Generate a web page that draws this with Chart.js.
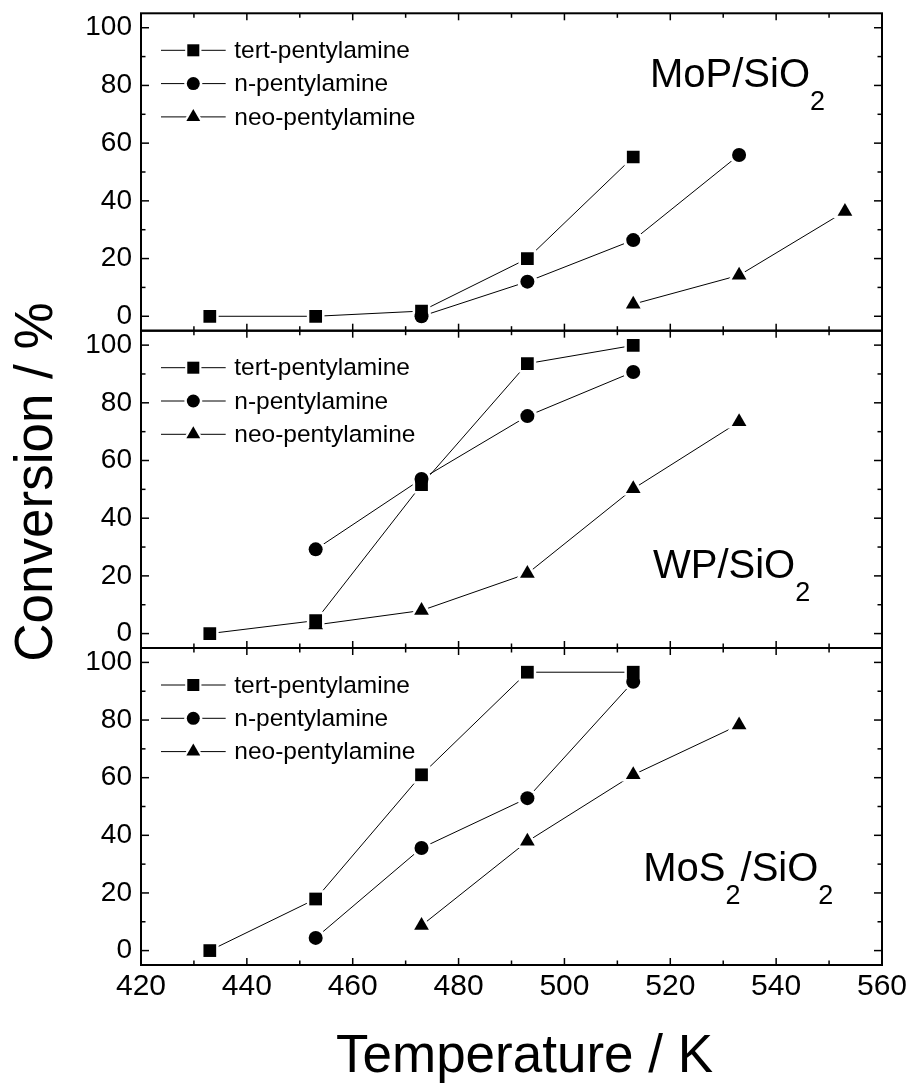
<!DOCTYPE html>
<html><head><meta charset="utf-8">
<script src="https://cdn.jsdelivr.net/npm/chart.js@4.4.1/dist/chart.umd.min.js"></script>
<style>
html,body{margin:0;padding:0;background:#fff;}
#wrap{position:relative;width:912px;height:1085px;overflow:hidden;background:#fff;}
#wrap canvas{position:absolute;left:0;}
</style></head><body>
<div id="wrap">
<canvas id="cA" width="912" height="420" style="top:-40px"></canvas>
<canvas id="cB" width="912" height="400" style="top:290px"></canvas>
<canvas id="cC" width="912" height="477" style="top:608px"></canvas>
</div>
<script>
// ---------- data ----------
const temperatureTicks = [420, 440, 460, 480, 500, 520, 540, 560];
const conversionTicks = [0, 20, 40, 60, 80, 100];
const seriesNames = ['tert-pentylamine', 'n-pentylamine', 'neo-pentylamine'];
const panelNames = ['MoP/SiO2', 'WP/SiO2', 'MoS2/SiO2'];
const xTitle = 'Temperature / K';
const yTitle = 'Conversion / %';

// MoP/SiO2
const mopTertT = [433, 453, 473, 493, 513];
const mopTert  = [0, 0, 1.8, 20, 55.2];
const mopNT    = [473, 493, 513, 533];
const mopN     = [0, 12, 26.4, 55.9];
const mopNeoT  = [513, 533, 553];
const mopNeo   = [4.2, 14.2, 36.3];

// WP/SiO2
const wpTertT = [433, 453, 473, 493, 513];
const wpTert  = [0, 4.5, 51.6, 93.6, 99.9];
const wpNT    = [453, 473, 493, 513];
const wpN     = [29.2, 53.6, 75.4, 90.7];
const wpNeoT  = [453, 473, 493, 513, 533];
const wpNeo   = [3.0, 8.0, 20.8, 50.2, 73.4];

// MoS2/SiO2
const mosTertT = [433, 453, 473, 493, 513];
const mosTert  = [0, 17.9, 61, 96.6, 96.6];
const mosNT    = [453, 473, 493, 513];
const mosN     = [4.4, 35.6, 52.9, 93.3];
const mosNeoT  = [473, 493, 513, 533];
const mosNeo   = [8.7, 37.9, 61.0, 78.3];

// ---------- styling ----------
const FONT = "'Liberation Sans', Arial, Helvetica, sans-serif";
const markerStyles = ['rect', 'circle', 'triangle'];
const markerRadius = [9, 7, 8.5];
const haloRadius = [12.5, 10, 13.5];

function drawMarker(ctx, style, r, x, y, color) {
  ctx.save();
  ctx.fillStyle = color;
  if (Chart.helpers && Chart.helpers.drawPoint) {
    Chart.helpers.drawPoint(ctx, {pointStyle: style, radius: r, rotation: 0, borderWidth: 0}, x, y);
  } else {
    ctx.beginPath();
    if (style === 'rect') { const s = Math.SQRT1_2 * r; ctx.rect(x - s, y - s, 2 * s, 2 * s); }
    else if (style === 'circle') { ctx.arc(x, y, r, 0, Math.PI * 2); }
    else { ctx.moveTo(x, y - r); ctx.lineTo(x + r * 0.866, y + r / 2); ctx.lineTo(x - r * 0.866, y + r / 2); ctx.closePath(); }
    ctx.fill();
  }
  ctx.restore();
}

function buildDatasets(series) {
  const ds = [];
  series.forEach(([T, V], i) => {
    const data = T.map((t, k) => ({x: t, y: V[k]}));
    ds.push({label: seriesNames[i], data, showLine: true, borderColor: '#000', borderWidth: 1,
      pointRadius: 0, pointHoverRadius: 0, fill: false, tension: 0, order: 3});
    ds.push({label: seriesNames[i] + ' (gap)', data, showLine: false, pointStyle: markerStyles[i],
      pointRadius: haloRadius[i], pointHoverRadius: haloRadius[i], pointBackgroundColor: '#fff',
      pointBorderWidth: 0, pointBorderColor: '#fff', order: 2});
    ds.push({label: seriesNames[i] + ' (marker)', data, showLine: false, pointStyle: markerStyles[i],
      pointRadius: markerRadius[i], pointHoverRadius: markerRadius[i], pointBackgroundColor: '#000',
      pointBorderWidth: 0, pointBorderColor: '#000', order: 1});
  });
  return ds;
}

function drawPanelLabel(ctx, text, x, baseline, subBaseline) {
  ctx.save();
  ctx.fillStyle = '#000';
  ctx.textBaseline = 'alphabetic';
  ctx.textAlign = 'left';
  let cx = x;
  for (const ch of text) {
    const sub = /[0-9]/.test(ch);
    ctx.font = (sub ? '27px ' : '40px ') + FONT;
    ctx.fillText(ch, cx, sub ? subBaseline : baseline);
    cx += ctx.measureText(ch).width;
  }
  ctx.restore();
}

const decoPlugin = {
  id: 'deco',
  afterDraw(chart, args, o) {
    const ctx = chart.ctx, ca = chart.chartArea, x = chart.scales.x, y = chart.scales.y;
    ctx.save();
    ctx.strokeStyle = '#000';
    ctx.lineWidth = 1.5;
    const seg = (x1, y1, x2, y2) => { ctx.beginPath(); ctx.moveTo(x1, y1); ctx.lineTo(x2, y2); ctx.stroke(); };
    for (let v = temperatureTicks[0]; v <= temperatureTicks[temperatureTicks.length - 1]; v += 10) {
      const px = x.getPixelForValue(v);
      const len = (v % 20 === 0) ? 7 : 4.5;
      seg(px, ca.bottom, px, ca.bottom - len);
      seg(px, ca.top, px, ca.top + len);
    }
    for (let v = 0; v <= 100; v += 10) {
      const py = y.getPixelForValue(v);
      const len = (v % 20 === 0) ? 8 : 4.5;
      seg(ca.left, py, ca.left + len, py);
      seg(ca.right, py, ca.right - len, py);
    }
    ctx.lineWidth = 2;
    ctx.strokeRect(ca.left, ca.top, ca.right - ca.left, ca.bottom - ca.top);

    // legend
    ctx.lineWidth = 1;
    for (let i = 0; i < 3; i++) {
      const ly = ca.top + 37 + i * 33.3;
      seg(161, ly, 225.7, ly);
      drawMarker(ctx, markerStyles[i], haloRadius[i] - 1, 193.3, ly, '#fff');
      drawMarker(ctx, markerStyles[i], markerRadius[i] - 0.5, 193.3, ly, '#000');
      ctx.fillStyle = '#000';
      ctx.font = '24.5px ' + FONT;
      ctx.textAlign = 'left';
      ctx.textBaseline = 'middle';
      ctx.fillText(seriesNames[i], 234.3, ly + 1);
    }
    // panel label
    drawPanelLabel(ctx, o.name, o.labelX, ca.top + o.labelDy, ca.top + o.labelDy + 23);

    // axis titles
    if (o.yTitle) {
      ctx.save();
      ctx.translate(51.7, o.yTitleY);
      ctx.rotate(-Math.PI / 2);
      ctx.font = '53px ' + FONT;
      ctx.textAlign = 'center';
      ctx.textBaseline = 'alphabetic';
      ctx.fillStyle = '#000';
      ctx.fillText(yTitle, 0, 0);
      ctx.restore();
    }
    if (o.xTitle) {
      ctx.font = '53px ' + FONT;
      ctx.textAlign = 'left';
      ctx.textBaseline = 'alphabetic';
      ctx.fillStyle = '#000';
      ctx.fillText(xTitle, 336, o.xTitleY);
    }
    ctx.restore();
  }
};

function makePanel(id, series, deco, pad, showX) {
  return new Chart(document.getElementById(id), {
    type: 'scatter',
    data: {datasets: buildDatasets(series)},
    options: {
      responsive: false,
      animation: false,
      events: [],
      layout: {padding: pad},
      plugins: {legend: {display: false}, tooltip: {enabled: false}, deco},
      scales: {
        x: {
          type: 'linear', position: 'bottom', min: 420, max: 560, display: showX,
          grid: {display: false, drawTicks: false}, border: {display: false},
          afterBuildTicks: s => { s.ticks = temperatureTicks.map(v => ({value: v})); },
          afterFit: s => { s.height = showX ? 40 : 0; },
          ticks: {autoSkip: false, maxRotation: 0, minRotation: 0, padding: 3.5, color: '#000',
            font: {family: FONT, size: 30}}
        },
        y: {
          type: 'linear', position: 'left', min: -5, max: 105,
          grid: {display: false, drawTicks: false}, border: {display: false},
          afterBuildTicks: s => { s.ticks = conversionTicks.map(v => ({value: v})); },
          afterFit: s => { s.width = 141; },
          ticks: {padding: 9, color: '#000', font: {family: FONT, size: 28}}
        }
      }
    },
    plugins: [decoPlugin]
  });
}

// page chart areas: A 13.3-330.7, B 330.7-648, C 648-965 ; x from 141 to 882
makePanel('cA', [[mopTertT, mopTert], [mopNT, mopN], [mopNeoT, mopNeo]],
  {name: panelNames[0], labelX: 650, labelDy: 73.4},
  {left: 0, right: 30, top: 53.3, bottom: 49.3}, false);
makePanel('cB', [[wpTertT, wpTert], [wpNT, wpN], [wpNeoT, wpNeo]],
  {name: panelNames[1], labelX: 653, labelDy: 247.6, yTitle: true, yTitleY: 482 - 290},
  {left: 0, right: 30, top: 40.7, bottom: 42}, false);
makePanel('cC', [[mosTertT, mosTert], [mosNT, mosN], [mosNeoT, mosNeo]],
  {name: panelNames[2], labelX: 643.3, labelDy: 233.3, xTitle: true, xTitleY: 1071.7 - 608},
  {left: 0, right: 30, top: 40, bottom: 80}, true);
</script>
</body></html>
